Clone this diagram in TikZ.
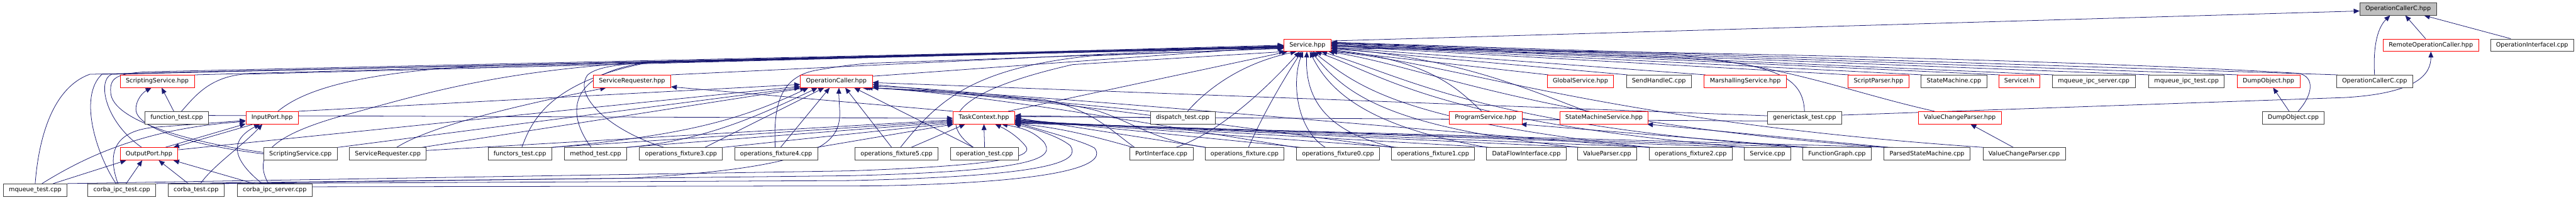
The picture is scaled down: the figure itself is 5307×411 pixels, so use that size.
\documentclass[tikz,border=0pt]{standalone}
\usepackage{fontspec}
\setmainfont{DejaVu Sans}
\usetikzlibrary{arrows.meta,backgrounds}
\definecolor{edgec}{RGB}{25,25,112}
\definecolor{boxgrey}{RGB}{64,64,64}
\tikzset{
  nb/.style={draw=boxgrey, line width=1.1pt, fill=white, minimum height=25.5pt,
    inner xsep=11.5pt, inner ysep=0pt, text height=9.2pt, text depth=2.8pt,
    font=\fontsize{12.5}{15}\selectfont},
  nr/.style={nb, draw=red},
  nroot/.style={nb, fill=black!25},
  e/.style={draw=edgec, line width=1pt, -{Triangle[length=12pt,width=10pt]}},
}
\begin{document}
\begin{tikzpicture}[x=1pt,y=-1pt]
\useasboundingbox (0,0) rectangle (5307,411);
% row 0/1
\node[nroot] (root) at (4940.5,18.5) {OperationCallerC.hpp};
\node[nr] (S) at (2693.5,93) {Service.hpp};
\node[nr] (remote) at (5008,93) {RemoteOperationCaller.hpp};
\node[nb] (opiface) at (5216.5,93) {OperationInterfaceI.cpp};
% row 2
\node[nr] (sshpp) at (324,167.5) {ScriptingService.hpp};
\node[nr] (srhpp) at (1302,167.5) {ServiceRequester.hpp};
\node[nr] (oc) at (1723,167.5) {OperationCaller.hpp};
\node[nr] (gs) at (3256,167.5) {GlobalService.hpp};
\node[nb] (shc) at (3417.5,167.5) {SendHandleC.cpp};
\node[nr] (ms) at (3595.5,167.5) {MarshallingService.hpp};
\node[nr] (sp) at (3870,167.5) {ScriptParser.hpp};
\node[nb] (smcpp) at (4025.5,167.5) {StateMachine.cpp};
\node[nr] (si) at (4160,167.5) {ServiceI.h};
\node[nb] (mqis) at (4313.5,167.5) {mqueue\_ipc\_server.cpp};
\node[nb] (mqit) at (4504.5,167.5) {mqueue\_ipc\_test.cpp};
\node[nr] (dohpp) at (4673.5,167.5) {DumpObject.hpp};
\node[nb] (occpp) at (4892,167.5) {OperationCallerC.cpp};
% row 3
\node[nb] (ft) at (364,242.5) {function\_test.cpp};
\node[nr] (ip) at (560.5,242.5) {InputPort.hpp};
\node[nr] (tc) at (2027,242.5) {TaskContext.hpp};
\node[nb] (dt) at (2436.5,242.5) {dispatch\_test.cpp};
\node[nr] (ps) at (3060.5,242.5) {ProgramService.hpp};
\node[nr] (sms) at (3304.5,242.5) {StateMachineService.hpp};
\node[nb] (gt) at (3717.5,242.5) {generictask\_test.cpp};
\node[nr] (vchpp) at (4037.5,242.5) {ValueChangeParser.hpp};
\node[nb] (docpp) at (4724.5,242.5) {DumpObject.cpp};
% row 4
\node[nr] (op) at (307,317) {OutputPort.hpp};
\node[nb] (sscpp) at (619,317) {ScriptingService.cpp};
\node[nb] (srcpp) at (799,317) {ServiceRequester.cpp};
\node[nb] (fnt) at (1071,317) {functors\_test.cpp};
\node[nb] (mt) at (1227,317) {method\_test.cpp};
\node[nb] (of3) at (1403,317) {operations\_fixture3.cpp};
\node[nb] (of4) at (1599,317) {operations\_fixture4.cpp};
\node[nb] (of5) at (1847,317) {operations\_fixture5.cpp};
\node[nb] (ot) at (2028.5,317) {operation\_test.cpp};
\node[nb] (pi) at (2392.5,317) {PortInterface.cpp};
\node[nb] (of) at (2564,317) {operations\_fixture.cpp};
\node[nb] (of0) at (2756.5,317) {operations\_fixture0.cpp};
\node[nb] (of1) at (2952.5,317) {operations\_fixture1.cpp};
\node[nb] (dfi) at (3144.5,317) {DataFlowInterface.cpp};
\node[nb] (vp) at (3311,317) {ValueParser.cpp};
\node[nb] (of2) at (3483,317) {operations\_fixture2.cpp};
\node[nb] (scpp) at (3641.5,317) {Service.cpp};
\node[nb] (fg) at (3784.5,317) {FunctionGraph.cpp};
\node[nb] (psm) at (3970,317) {ParsedStateMachine.cpp};
\node[nb] (vccpp) at (4170,317) {ValueChangeParser.cpp};
% row 5
\node[nb] (mq) at (72.5,391.5) {mqueue\_test.cpp};
\node[nb] (cit) at (251,391.5) {corba\_ipc\_test.cpp};
\node[nb] (ct) at (404,391.5) {corba\_test.cpp};
\node[nb] (cis) at (566,391.5) {corba\_ipc\_server.cpp};

\begin{pgfonlayer}{background}
% ---- into root
\draw[e] (S.10) -- (root.183);
\draw[e] (occpp.north) .. controls (4889,105) and (4895,60) .. (root.219);
\draw[e] ([xshift=-11pt]remote.north) -- (root.318);
\draw[e] ([xshift=-44pt]opiface.north) -- (root.346);
% ---- remote, dumpobject, valuechangeparser, program/statemachine service
\draw[e] (gt.4) -- (4830,201) .. controls (4985,192) and (5008,150) .. (remote.south);
\draw[e] ([xshift=-8.5pt]docpp.north) -- ([xshift=9.5pt]dohpp.south);
\draw[e] ([xshift=-22pt]vccpp.north) -- ([xshift=22pt]vchpp.south);
\draw[e] ([xshift=12pt]fg.north west) -- ([xshift=-3pt]ps.south east);
\draw[e] ([xshift=12pt]psm.north west) -- ([xshift=-3pt]sms.south east);
% ---- into Service.hpp from the right (row 2)
\draw[e] ([xshift=3pt]gs.north west) -- (S.347);
\draw[e] ([xshift=3pt]shc.north west) -- (S.352);
\draw[e] ([xshift=3pt]ms.north west) -- (S.355);
\draw[e] ([xshift=3pt]sp.north west) -- (S.358);
\draw[e] ([xshift=3pt]smcpp.north west) -- (S.0);
\draw[e] ([xshift=3pt]si.north west) -- (S.2);
\draw[e] ([xshift=3pt]mqis.north west) -- (S.4);
\draw[e] ([xshift=3pt]mqit.north west) -- (S.5);
\draw[e] ([xshift=3pt]dohpp.north west) -- (S.6);
\draw[e] ([xshift=3pt]occpp.north west) -- (S.7);
% ---- into Service.hpp from the right (row 3)
\draw[e] ([xshift=10pt]docpp.north) .. controls (4765,195) and (4770,158) .. (4735,151) .. controls (4300,125) and (3400,103) .. (S.352);
\draw[e] ([xshift=-8pt]ps.north) .. controls (3005,185) and (2950,125) .. (S.349);
\draw[e] ([xshift=-36pt]sms.north) .. controls (3130,177) and (3000,120) .. (S.353);
\draw[e] (gt.north) .. controls (3715,160) and (3660,130) .. (3450,118) -- (S.357);
\draw[e] ([xshift=-52pt]vchpp.north) .. controls (3810,190) and (3700,140) .. (3450,112) -- (S.359);
% ---- into Service.hpp from below (row 4, right)
\draw[e] ([xshift=-26pt]of0.north) .. controls (2672,268) and (2660,170) .. (S.235);
\draw[e] ([xshift=7pt]of1.north west) .. controls (2740,275) and (2688,210) .. (S.265);
\draw[e] ([xshift=3pt]dfi.north west) .. controls (2820,262) and (2740,190) .. (S.290);
\draw[e] ([xshift=3pt]vp.north west) .. controls (2850,262) and (2770,190) .. (S.300);
\draw[e] ([xshift=3pt]of2.north west) .. controls (2890,250) and (2800,180) .. (S.310);
\draw[e] ([xshift=3pt]scpp.north west) .. controls (2970,250) and (2860,160) .. (S.322);
\draw[e] ([xshift=3pt]fg.north west) .. controls (3060,260) and (2900,160) .. (S.335);
\draw[e] ([xshift=3pt]psm.north west) .. controls (3160,250) and (2950,140) .. (S.343);
\draw[e] ([xshift=3pt]vccpp.north west) .. controls (3300,250) and (3000,130) .. (S.345);
% ---- into Service.hpp from lower left
\draw[e] ([xshift=50pt]tc.north) -- (S.198);
\draw[e] ([xshift=10pt]dt.north) .. controls (2490,180) and (2560,130) .. (S.210);
\draw[e] ([xshift=30pt]pi.north) .. controls (2520,270) and (2620,170) .. (S.220);
\draw[e] ([xshift=8pt]of.north) .. controls (2600,240) and (2640,170) .. (S.228);
\draw[e] ([xshift=8pt]of5.north) .. controls (1930,210) and (2000,140) .. (2250,115) -- (S.187);
\draw[e] ([xshift=-23pt]ot.north) .. controls (1930,250) and (1960,190) .. (2210,133) -- (S.196);
% ---- into Service.hpp from the left
\draw[e] (oc.8) -- (S.183);
\draw[e] (srhpp.north east) -- (S.181);
\draw[e] (sshpp.north east) -- (S.180);
\draw[e] ([xshift=12pt]ip.north) .. controls (620,190) and (720,150) .. (1000,135) -- (S.182);
\draw[e] ([xshift=10pt]ft.north) .. controls (400,200) and (430,160) .. (500,153) -- (S.184);
\draw[e] ([xshift=-15pt]op.north) .. controls (215,250) and (200,165) .. (230,153) -- (S.184);
\draw[e] ([yshift=3pt]sscpp.west) .. controls (400,295) and (230,250) .. (228,190) .. controls (226,160) and (240,152) .. (300,148) -- (S.183);
\draw[e] (mq.north) .. controls (80,280) and (110,180) .. (185,153) -- (S.186);
\draw[e] ([xshift=-12pt]cit.north) .. controls (200,320) and (160,200) .. (210,153) -- (S.185);
\draw[e] ([xshift=-13pt]cis.north) .. controls (520,320) and (560,280) .. (700,240) .. controls (850,200) and (1000,150) .. (1300,130) -- (S.185);
\draw[e] ([xshift=4pt]fnt.north) .. controls (1095,250) and (1130,170) .. (1330,130) -- (S.184);
\draw[e] ([xshift=-9pt]mt.north) .. controls (1170,240) and (1160,150) .. (1340,128) -- (S.185);
\draw[e] ([xshift=-35pt]of3.north) .. controls (1260,270) and (1180,200) .. (1210,155) .. controls (1230,135) and (1300,130) .. (1360,128) -- (S.186);
\draw[e] ([xshift=-2pt]of4.north) .. controls (1594,230) and (1600,160) .. (1680,145) .. controls (1720,138) and (1760,132) .. (1800,130) -- (S.188);
% ---- into OperationCaller.hpp
\draw[e] (ip.north east) -- (oc.185);
\draw[e] (op.8) -- (oc.188);
\draw[e] (sscpp.north east) -- (oc.190);
\draw[e] ([xshift=-10pt]srcpp.north east) -- (oc.192);
\draw[e] (fnt.north east) .. controls (1400,280) and (1520,250) .. (oc.193);
\draw[e] (mt.north east) .. controls (1450,290) and (1560,240) .. (oc.199);
\draw[e] ([xshift=49pt]of3.north) -- (oc.208);
\draw[e] ([xshift=9pt]of4.north) -- (oc.224);
\draw[e] (ct.25) -- (1300,367) .. controls (1680,345) and (1732,300) .. (1730,230) .. controls (1729,210) and (1728,195) .. (oc.292);
\draw[e] ([xshift=-10pt]of5.north) -- (oc.324);
\draw[e] ([xshift=-23pt]ot.north) -- (oc.340);
\draw[e] (gt.177) -- (oc.358);
\draw[e] (dt.north west) -- (oc.355);
\draw[e] ([xshift=-80pt]of.north) .. controls (2380,290) and (2330,250) .. (2260,228) .. controls (2150,200) and (1900,180) .. (oc.352);
\draw[e] ([xshift=-55pt]pi.north) .. controls (2290,270) and (2250,225) .. (2150,205) -- (oc.350);
\draw[e] (of0.north west) .. controls (2400,260) and (2000,190) .. (oc.348);
\draw[e] (of1.north west) .. controls (2500,255) and (2050,190) .. (oc.347);
\draw[e] (of2.north west) .. controls (2700,250) and (2100,190) .. (oc.346);
% ---- into TaskContext.hpp
\draw[e] (ft.4) -- (tc.181);
\draw[e] (srcpp.5) -- (tc.184);
\draw[e] ([xshift=-3pt]fnt.north east) -- (tc.186);
\draw[e] ([xshift=-3pt]mt.north east) -- (tc.188);
\draw[e] (of3.north east) -- (tc.190);
\draw[e] ([xshift=-3pt]of4.north east) -- (tc.192);
\draw[e] ([xshift=30pt]of5.north) -- (tc.199);
\draw[e] (ot.north) -- (tc.south);
\draw[e] (dt.west) -- (tc.4);
\draw[e] (gt.185) -- (tc.2);
\draw[e] ([xshift=3pt]of.north west) -- (tc.0);
\draw[e] ([xshift=10pt]of0.north west) -- (tc.358);
\draw[e] ([xshift=14pt]of1.north west) -- (tc.356);
\draw[e] ([xshift=10pt]dfi.north west) -- (tc.355);
\draw[e] ([xshift=10pt]vp.north west) -- (tc.354);
\draw[e] ([xshift=10pt]of2.north west) -- (tc.353);
\draw[e] ([xshift=10pt]scpp.north west) -- (tc.352);
\draw[e] ([xshift=20pt]fg.north west) -- (tc.351);
\draw[e] ([xshift=20pt]psm.north west) -- (tc.350);
\draw[e] ([xshift=8pt]pi.north west) .. controls (2250,280) and (2180,262) .. (tc.349);
\draw[e] (mq.north east) -- (1750,352) .. controls (2090,340) and (2130,320) .. (2112,300) .. controls (2100,285) and (2080,270) .. (tc.330);
\draw[e] (cit.north east) -- (1750,362) .. controls (2140,352) and (2175,325) .. (2150,292) .. controls (2130,272) and (2110,264) .. (tc.340);
\draw[e] (ct.north east) -- (1750,372) .. controls (2185,362) and (2225,330) .. (2205,300) .. controls (2180,280) and (2130,265) .. (tc.348);
\draw[e] (cis.5) -- (1800,383) .. controls (2245,375) and (2275,330) .. (2255,305) .. controls (2230,290) and (2150,270) .. (tc.352);
% ---- ServiceRequester.hpp, ScriptingService.hpp
\draw[e] ([xshift=18pt]srcpp.north) .. controls (870,270) and (1000,230) .. (srhpp.194);
\draw[e] (tc.north west) -- (srhpp.352);
\draw[e] ([xshift=-6pt]ft.north) -- ([xshift=9pt]sshpp.south);
\draw[e] (sscpp.west) .. controls (400,300) and (280,265) .. (280,225) .. controls (280,205) and (295,190) .. ([xshift=-12pt]sshpp.south);
% ---- InputPort.hpp, OutputPort.hpp
\draw[e] ([xshift=14pt]mq.north) .. controls (180,320) and (300,265) .. (ip.188);
\draw[e] ([xshift=-8pt]cit.north) .. controls (222,320) and (230,270) .. (320,262) -- (ip.186);
\draw[e] ([xshift=9pt]ct.north) .. controls (440,340) and (500,300) .. ([xshift=-20pt]ip.south);
\draw[e] ([xshift=-26pt]cis.north) .. controls (480,330) and (470,290) .. ([xshift=-25pt]ip.south);
\draw[e] ([xshift=33pt]op.north) -- (ip.193);
\draw[e] ([xshift=-38pt]ip.south) -- ([xshift=50pt]op.north);
\draw[e] ([xshift=37pt]mq.north) -- ([xshift=-47pt]op.south);
\draw[e] ([xshift=9pt]cit.north) -- ([xshift=-14pt]op.south);
\draw[e] ([xshift=-16pt]ct.north) -- ([xshift=20pt]op.south);
\draw[e] ([xshift=-43pt]cis.north) -- ([xshift=50pt]op.south);
\end{pgfonlayer}
\end{tikzpicture}
\end{document}
